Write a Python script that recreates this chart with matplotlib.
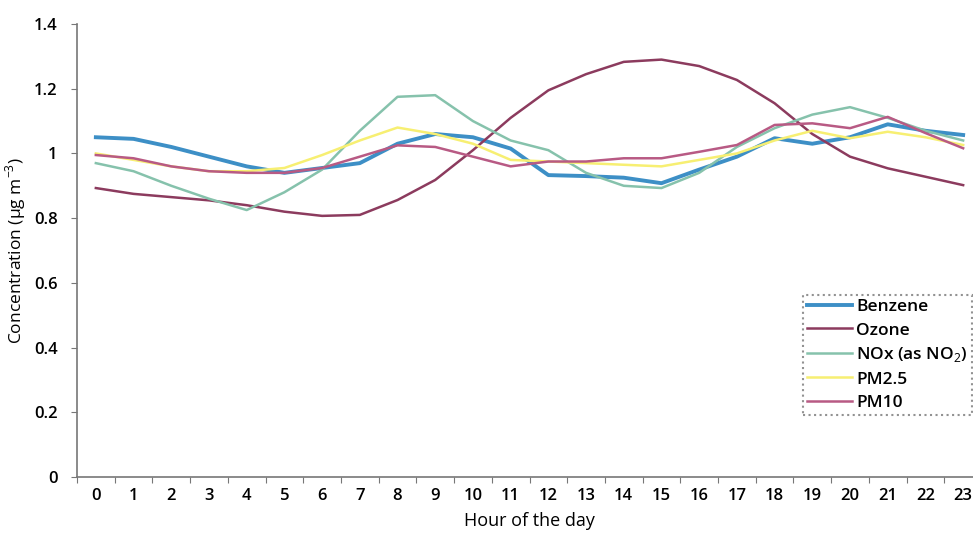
import matplotlib.pyplot as plt
from matplotlib.ticker import FixedLocator, FuncFormatter

hours = list(range(24))

benzene = [1.05, 1.045, 1.02, 0.99, 0.96, 0.94, 0.955, 0.97, 1.03, 1.06, 1.05, 1.015,
           0.933, 0.93, 0.925, 0.908, 0.95, 0.99, 1.047, 1.03, 1.05, 1.09, 1.07, 1.057]
ozone = [0.893, 0.875, 0.865, 0.855, 0.84, 0.82, 0.807, 0.81, 0.856, 0.918, 1.01, 1.11,
         1.195, 1.245, 1.283, 1.29, 1.27, 1.227, 1.155, 1.06, 0.99, 0.954, 0.928, 0.902]
nox = [0.97, 0.945, 0.9, 0.86, 0.825, 0.88, 0.95, 1.07, 1.175, 1.18, 1.10, 1.04,
       1.01, 0.94, 0.9, 0.893, 0.94, 1.02, 1.078, 1.12, 1.143, 1.11, 1.07, 1.04]
pm25 = [1.0, 0.98, 0.96, 0.945, 0.945, 0.955, 0.995, 1.04, 1.08, 1.06, 1.03, 0.98,
        0.975, 0.97, 0.965, 0.96, 0.98, 1.0, 1.04, 1.07, 1.047, 1.067, 1.05, 1.026]
pm10 = [0.995, 0.985, 0.96, 0.945, 0.94, 0.94, 0.955, 0.99, 1.025, 1.02, 0.99, 0.96,
        0.975, 0.975, 0.985, 0.985, 1.005, 1.026, 1.088, 1.093, 1.078, 1.113, 1.063, 1.016]

series = [
    ("Benzene", benzene, "#3d8fc6", 2.8),
    ("Ozone", ozone, "#8c3b5e", 1.8),
    ("NOx (as NO$_2$)", nox, "#86c2ac", 1.8),
    ("PM2.5", pm25, "#f7ef72", 1.8),
    ("PM10", pm10, "#b85a84", 1.8),
]

plt.rcParams["font.family"] = ["Open Sans", "DejaVu Sans"]
plt.rcParams["mathtext.fontset"] = "custom"
plt.rcParams["mathtext.rm"] = "Open Sans"

fig = plt.figure(figsize=(9.73, 5.33), dpi=100)
ax = fig.add_axes([77 / 973, 56 / 533, 905 / 973, 453 / 533])

for name, values, color, lw in series:
    ax.plot(hours, values, color=color, linewidth=lw, label=name)

ax.set_xlim(-0.5, 23.5)
ax.set_ylim(0, 1.4)

# hour labels sit between the tick marks
ax.xaxis.set_major_locator(FixedLocator([h - 0.5 for h in hours] + [23.5]))
ax.xaxis.set_minor_locator(FixedLocator(hours))
ax.xaxis.set_major_formatter(FuncFormatter(lambda v, p: ""))
ax.xaxis.set_minor_formatter(FuncFormatter(lambda v, p: f"{int(round(v))}"))
ax.tick_params(axis="x", which="minor", length=0, labelsize=12, pad=8)
ax.tick_params(axis="x", which="major", length=4, color="#777777", direction="out")

ax.set_yticks([0, 0.2, 0.4, 0.6, 0.8, 1.0, 1.2, 1.4])
ax.yaxis.set_major_formatter(FuncFormatter(lambda v, p: f"{v:g}"))
ax.tick_params(axis="y", length=4, color="#777777", labelsize=12, pad=10)

for lbl in ax.get_xticklabels(minor=True) + ax.get_yticklabels():
    lbl.set_fontweight("semibold")

for side in ("top", "right"):
    ax.spines[side].set_visible(False)
for side in ("left", "bottom"):
    ax.spines[side].set_color("#777777")
    ax.spines[side].set_linewidth(1.2)

ax.set_xlabel("Hour of the day", fontsize=13, labelpad=6, fontweight="medium")
ax.set_ylabel("Concentration (µg m$^{-3}$)", fontsize=12.5, labelpad=4, fontweight="medium")

leg = ax.legend(loc="lower right", bbox_to_anchor=(972 / 973, 118 / 533),
                bbox_transform=fig.transFigure, fontsize=12.5, frameon=True,
                fancybox=False, handlelength=2.6, handletextpad=0.2,
                labelspacing=0.4, borderpad=0.25, borderaxespad=0)
leg.get_frame().set_edgecolor("#777777")
leg.get_frame().set_linestyle(":")
leg.get_frame().set_linewidth(1.5)
for t in leg.get_texts():
    t.set_fontweight("semibold")

fig.savefig("out.png", dpi=100)
